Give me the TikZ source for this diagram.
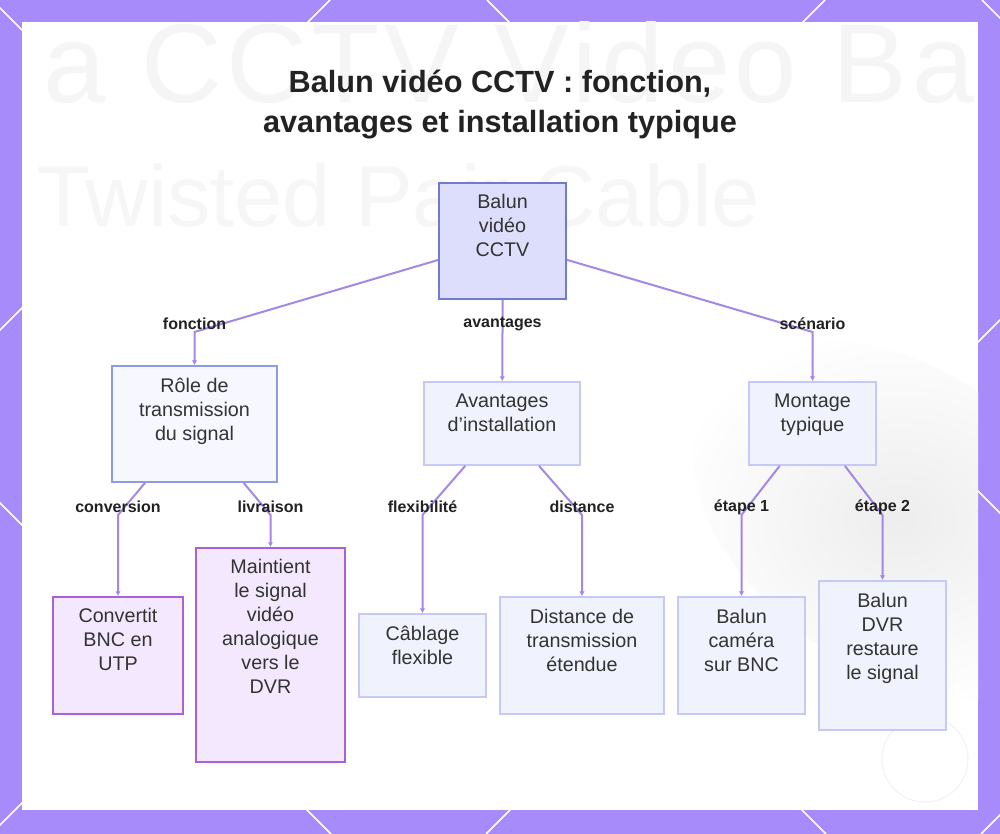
\documentclass[tikz,border=0pt]{standalone}
\usepackage{fontspec}
\setmainfont{Liberation Sans}
\usetikzlibrary{arrows.meta,positioning}
\definecolor{framepurple}{RGB}{167,139,250}
\definecolor{linkpurple}{RGB}{165,135,232}
\definecolor{rootfill}{RGB}{220,222,251}
\definecolor{rootdraw}{RGB}{112,122,206}
\definecolor{midfill}{RGB}{246,247,255}
\definecolor{middraw}{RGB}{140,155,226}
\definecolor{lightfill}{RGB}{240,242,254}
\definecolor{lightdraw}{RGB}{196,201,245}
\definecolor{leaffill}{RGB}{243,232,253}
\definecolor{leafdraw}{RGB}{170,96,214}
\definecolor{txtgray}{RGB}{51,51,51}
\definecolor{titlegray}{RGB}{34,34,34}

\begin{document}
\begin{tikzpicture}[x=0.75pt,y=-0.75pt,
  wh/.style 2 args={minimum width=#1*0.75pt,minimum height=#2*0.75pt},
  rootbox/.style={draw=rootdraw,fill=rootfill,line width=1.5pt,inner sep=0pt},
  midbox/.style={draw=middraw,fill=midfill,line width=1.3pt,inner sep=0pt},
  lightbox/.style={draw=lightdraw,fill=lightfill,line width=1.3pt,inner sep=0pt},
  leafbox/.style={draw=leafdraw,fill=leaffill,line width=1.5pt,inner sep=0pt},
  boxtext/.style={anchor=north,inner sep=0pt,align=center,text=txtgray,
    font=\fontsize{14.8}{18}\selectfont,execute at begin node={\vphantom{Â}}},
  edgelabel/.style={inner sep=1pt,text=titlegray,font=\bfseries\fontsize{12}{14}\selectfont},
  link/.style={draw=linkpurple,line width=1.5pt,-{Latex[length=3.5pt,width=4pt]}}]
\useasboundingbox (0,0) rectangle (1000,834);

% frame
\fill[framepurple] (0,0) rectangle (1000,834);
\begin{scope}
  \clip (0,0) rectangle (1000,834);
  \foreach \c in {330,825,1320,1815}
    \draw[white,line width=1.2pt] (\c,0) -- ({\c-834},834);
  \foreach \c in {-503,-8,487,982}
    \draw[white,line width=1.2pt] (\c,0) -- ({\c+834},834);
\end{scope}
\fill[white] (22,22) rectangle (978,810);

% faded background
\begin{scope}
  \clip (22,22) rectangle (978,810);
  \shade[inner color=black!7,outer color=white] (900,520) ellipse [x radius=230,y radius=150,rotate=-35];
  \node[anchor=base west,inner sep=0pt,text=black!4,font=\fontsize{84}{90}\selectfont\addfontfeature{LetterSpace=4}] (bgone) at (43,103) {a CCTV Video Ba};
  \node[anchor=base west,inner sep=0pt,text=black!3.5,font=\fontsize{65}{70}\selectfont] (bgtwo) at (37,227) {Twisted Pair Cable};
  \draw[black!5,line width=0.8pt] (925,759) circle [radius=43];
\end{scope}

% title
\node[align=center,text=titlegray,font=\bfseries\fontsize{23}{30}\selectfont] (title) at (500,105)
  {Balun vidéo CCTV : fonction,\\avantages et installation typique};

% boxes
\node[rootbox,wh={127}{116}] (root) at (502.5,241) {};
\node[midbox,wh={165}{116}] (role) at (194.5,424) {};
\node[lightbox,wh={156}{83}] (avant) at (502,423.5) {};
\node[lightbox,wh={127}{83}] (montage) at (812.5,423.5) {};
\node[leafbox,wh={130}{117}] (conv) at (118,655.5) {};
\node[leafbox,wh={149}{214}] (maint) at (270.5,655) {};
\node[lightbox,wh={127}{83}] (cabl) at (422.5,655.5) {};
\node[lightbox,wh={164}{117}] (dist) at (582,655.5) {};
\node[lightbox,wh={127}{117}] (bcam) at (741.5,655.5) {};
\node[lightbox,wh={127}{149}] (bdvr) at (882.5,655.5) {};

% elbows
\coordinate (fE) at (194.5,332);
\coordinate (aE) at (502.5,332);
\coordinate (sE) at (812.5,332);
\coordinate (cE) at (118,515);
\coordinate (lE) at (270.5,515);
\coordinate (xE) at (422.5,515);
\coordinate (dE) at (582,515);
\coordinate (eoE) at (741.5,515);
\coordinate (etE) at (882.5,515);

% connectors
\draw[link] (root) -- (fE) -- (role);
\draw[link] (root) -- (aE) -- (avant);
\draw[link] (root) -- (sE) -- (montage);
\draw[link] (role) -- (cE) -- (conv);
\draw[link] (role) -- (lE) -- (maint);
\draw[link] (avant) -- (xE) -- (cabl);
\draw[link] (avant) -- (dE) -- (dist);
\draw[link] (montage) -- (eoE) -- (bcam);
\draw[link] (montage) -- (etE) -- (bdvr);

\node[edgelabel] (fL) at ([yshift=6pt]fE) {fonction};
\node[edgelabel] (aL) at ([yshift=6pt]aE) {avantages};
\node[edgelabel] (sL) at ([yshift=6pt]sE) {scénario};
\node[edgelabel] (cL) at ([yshift=6pt]cE) {conversion};
\node[edgelabel] (lL) at ([yshift=6pt]lE) {livraison};
\node[edgelabel] (xL) at ([yshift=6pt]xE) {flexibilité};
\node[edgelabel] (dL) at ([yshift=6pt]dE) {distance};
\node[edgelabel] (eoL) at ([yshift=6pt]eoE) {étape 1};
\node[edgelabel] (etL) at ([yshift=6pt]etE) {étape 2};

% box texts
\node[boxtext] (rootT) at ([yshift=-9.25pt]root.north) {Balun\\vidéo\\CCTV};
\node[boxtext] (roleT) at ([yshift=-9.25pt]role.north) {Rôle de\\transmission\\du signal};
\node[boxtext] (avantT) at ([yshift=-9.25pt]avant.north) {Avantages\\d’installation};
\node[boxtext] (montageT) at ([yshift=-9.25pt]montage.north) {Montage\\typique};
\node[boxtext] (convT) at ([yshift=-9.25pt]conv.north) {Convertit\\BNC en\\UTP};
\node[boxtext] (maintT) at ([yshift=-9.25pt]maint.north) {Maintient\\le signal\\vidéo\\analogique\\vers le\\DVR};
\node[boxtext] (cablT) at ([yshift=-9.25pt]cabl.north) {Câblage\\flexible};
\node[boxtext] (distT) at ([yshift=-9.25pt]dist.north) {Distance de\\transmission\\étendue};
\node[boxtext] (bcamT) at ([yshift=-9.25pt]bcam.north) {Balun\\caméra\\sur BNC};
\node[boxtext] (bdvrT) at ([yshift=-9.25pt]bdvr.north) {Balun\\DVR\\restaure\\le signal};
\end{tikzpicture}
\end{document}
